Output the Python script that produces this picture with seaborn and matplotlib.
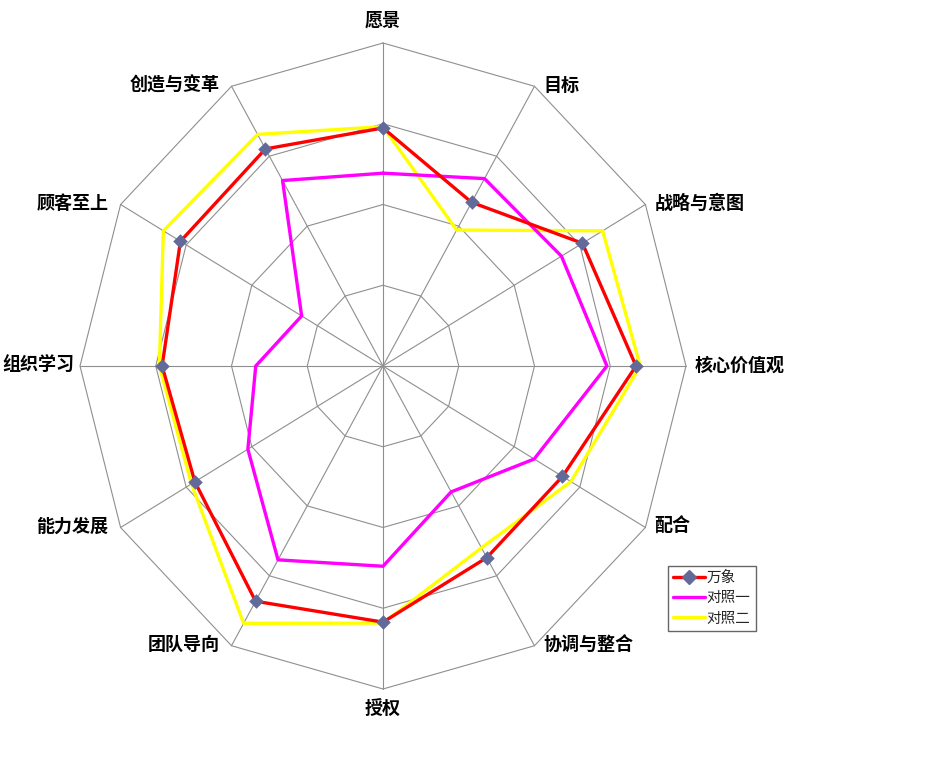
import numpy as np
import pandas as pd
import seaborn as sns
import matplotlib
matplotlib.use("Agg")
import matplotlib.pyplot as plt
from matplotlib.lines import Line2D

# ---------------- data ----------------
categories = ['愿景', '目标', '战略与意图', '核心价值观', '配合', '协调与整合',
              '授权', '团队导向', '能力发展', '组织学习', '顾客至上', '创造与变革']
series_names = ['万象', '对照一', '对照二']
wanxiang = [73.7, 58.5, 76.0, 83.5, 68.4, 68.5, 79.3, 84.1, 71.7, 72.9, 77.2, 77.6]
duizhao1 = [59.7, 67.0, 68.0, 73.9, 57.6, 45.0, 62.0, 69.3, 51.5, 42.0, 31.0, 66.3]
duizhao2 = [74.1, 48.6, 83.7, 84.9, 71.6, 65.0, 79.6, 92.0, 73.0, 73.8, 83.7, 82.8]
ring_levels = [25, 50, 75, 100]

# ---------------- style ----------------
sns.set_theme(style='white')
plt.rcParams['font.family'] = ['Noto Sans CJK SC', 'DejaVu Sans']

W, H = 932, 771
fig = plt.figure(figsize=(W / 100, H / 100), dpi=100)
ax = fig.add_axes([0, 0, 1, 1])
cx, cy = 383, 366          # centre of the radar in pixels
sx, sy = 3.03, 3.23        # pixels per value unit (horizontal / vertical)
ax.set_xlim(-cx / sx, (W - cx) / sx)
ax.set_ylim(-(H - cy) / sy, cy / sy)
ax.axis('off')

n = len(categories)
theta = np.arange(n) * 2 * np.pi / n
ux, uy = np.sin(theta), np.cos(theta)

grid_color = '#8f8f8f'
# rings
for r in ring_levels:
    gx = np.append(r * ux, r * ux[0])
    gy = np.append(r * uy, r * uy[0])
    ax.plot(gx, gy, color=grid_color, lw=0.8, zorder=1)
# spokes
rmax = ring_levels[-1]
for i in range(n):
    ax.plot([0, rmax * ux[i]], [0, rmax * uy[i]], color=grid_color, lw=0.8, zorder=1)

# series
colors = {'万象': '#ff0000', '对照一': '#ff00ff', '对照二': '#ffff00'}
values = {'万象': wanxiang, '对照一': duizhao1, '对照二': duizhao2}
rows = []
for s in series_names:
    v = values[s]
    for k in list(range(n)) + [0]:
        rows.append({'series': s, 'order': len(rows), 'cat': categories[k],
                     'value': v[k], 'x': v[k] * ux[k], 'y': v[k] * uy[k]})
df = pd.DataFrame(rows)

zord = {'万象': 4, '对照一': 3, '对照二': 2}
for s in ['对照二', '对照一', '万象']:
    sub = df[df['series'] == s]
    sns.lineplot(data=sub, x='x', y='y', sort=False, estimator=None,
                 color=colors[s], lw=2.4, ax=ax, legend=False, zorder=zord[s])

marker_color = '#626a9a'
pts = df[(df['series'] == '万象')].iloc[:n]
sns.scatterplot(data=pts, x='x', y='y', marker='D', s=55, color=marker_color,
                edgecolor=marker_color, linewidth=0, ax=ax, legend=False, zorder=6)

# category labels
for i, lab in enumerate(categories):
    vx, vy = rmax * ux[i], rmax * uy[i]
    if i == 0:
        off, ha = (0, 23), 'center'
    elif i == n // 2:
        off, ha = (0, -19), 'center'
    elif i < n // 2:
        off, ha = (9, 1), 'left'
    elif i == 9:
        off, ha = (-6, 1), 'right'
    else:
        off, ha = (-12, 1), 'right'
    ax.annotate(lab, xy=(vx, vy), xytext=(off[0] * 0.72, off[1] * 0.72),
                textcoords='offset points', ha=ha, va='center',
                fontsize=13, fontweight='bold', color='black',
                annotation_clip=False)

# legend
handles = [
    Line2D([], [], color=colors['万象'], lw=2.4, marker='D', markersize=7,
           markerfacecolor=marker_color, markeredgecolor=marker_color),
    Line2D([], [], color=colors['对照一'], lw=2.4),
    Line2D([], [], color=colors['对照二'], lw=2.4),
]
leg = fig.legend(handles, series_names, loc='upper left',
                 bbox_to_anchor=(668 / W, 1 - 566 / H), borderaxespad=0,
                 frameon=True, fancybox=False, edgecolor='#404040',
                 handlelength=2.2, handletextpad=0.1, borderpad=0.35,
                 labelspacing=0.42, fontsize=10.5, numpoints=1)
leg.get_frame().set_linewidth(1.0)
leg.get_frame().set_facecolor('white')

fig.savefig('out.png', dpi=100, facecolor='white')
